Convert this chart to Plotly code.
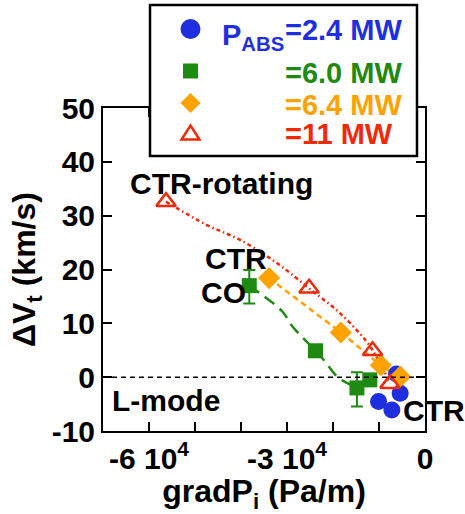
import plotly.graph_objects as go

# ---------------- data ----------------
# P_ABS = 2.4 MW (blue circles)
blue_x = [-1.01e4, -0.72e4, -0.54e4, -0.62e4]
blue_y = [-4.5, -6.1, -3.0, 0.6]

# P_ABS = 6.0 MW (green squares)
green_x = [-3.82e4, -2.38e4, -1.48e4, -1.20e4]
green_y = [17.0, 4.9, -2.0, -0.5]
green_err_plus = [2.9, 0, 2.9, 0]
green_err_minus = [3.3, 0, 3.45, 0]

# P_ABS = 6.4 MW (orange diamonds)
orange_x = [-3.39e4, -1.83e4, -0.96e4, -0.54e4]
orange_y = [18.4, 8.3, 2.2, 0.1]

# P_ABS = 11 MW (red open triangles)
red_x = [-5.63e4, -2.52e4, -1.14e4, -0.76e4]
red_y = [32.6, 16.5, 4.9, -1.2]

# guide curves
red_fit_x = [-5.63e4, -4.75e4, -4.02e4, -3.22e4, -2.52e4, -1.85e4, -1.27e4, -1.0e4, -0.76e4]
red_fit_y = [32.6, 28.3, 25.5, 21.2, 16.5, 11.9, 6.6, 3.0, -1.2]
orange_fit_x = [-3.39e4, -2.6e4, -1.83e4, -1.3e4, -0.96e4, -0.54e4]
orange_fit_y = [18.4, 13.3, 8.3, 4.6, 2.2, 0.1]
green_fit_x = [-3.82e4, -3.59e4, -3.1e4, -2.88e4, -2.38e4, -2.2e4, -1.91e4, -1.69e4, -1.5e4]
green_fit_y = [17.0, 15.6, 12.2, 9.4, 4.9, 3.2, 0.1, -1.1, -1.8]

x_tickvals = [-7e4, -6e4, -5e4, -4e4, -3e4, -2e4, -1e4, 0]
x_ticktext = ["", "-6 10<sup>4</sup>", "", "", "-3 10<sup>4</sup>", "", "", "0"]
y_tickvals = [-10, 0, 10, 20, 30, 40, 50]
y_ticktext = ["-10", "0", "10", "20", "30", "40", "50"]

legend_labels = ["=2.4 MW", "=6.0 MW", "=6.4 MW", "=11 MW"]

# ---------------- style ----------------
BLUE = "#1f2fe0"
GREEN = "#1e8a12"
ORANGE = "#ffa200"
RED = "#f02a08"
FONT = "Liberation Sans, Arial, sans-serif"

W, H = 465, 514
# plot frame in screen pixels
SX0, SX1, SY0, SY1 = 103, 425, 108, 431
L = SX0
R = W - SX1
T = SY0
B = H - SY1
PW, PH = W - L - R, H - T - B


def px_x(px):
    return (px - SX0) / PW


def px_y(py):
    return (SY1 - py) / PH


fig = go.Figure()

fig.add_trace(go.Scatter(x=red_fit_x, y=red_fit_y, mode="lines", line_shape="spline",
                         line=dict(color=RED, width=2.5, dash="4px,3px,1.5px,3px"),
                         showlegend=False, hoverinfo="skip"))
fig.add_trace(go.Scatter(x=orange_fit_x, y=orange_fit_y, mode="lines", line_shape="spline",
                         line=dict(color=ORANGE, width=2.5, dash="6px,4px"),
                         showlegend=False, hoverinfo="skip"))
fig.add_trace(go.Scatter(x=green_fit_x, y=green_fit_y, mode="lines", line_shape="spline",
                         line=dict(color=GREEN, width=2.5, dash="12px,7px"),
                         showlegend=False, hoverinfo="skip"))

fig.add_trace(go.Scatter(x=blue_x, y=blue_y, mode="markers",
                         marker=dict(symbol="circle", size=17, color=BLUE),
                         showlegend=False))
fig.add_trace(go.Scatter(x=green_x, y=green_y, mode="markers",
                         marker=dict(symbol="square", size=15, color=GREEN),
                         error_y=dict(type="data", symmetric=False, array=green_err_plus,
                                      arrayminus=green_err_minus, color=GREEN,
                                      thickness=2, width=6),
                         showlegend=False))
fig.add_trace(go.Scatter(x=orange_x, y=orange_y, mode="markers",
                         marker=dict(symbol="diamond", size=17, color=ORANGE),
                         showlegend=False))
fig.add_trace(go.Scatter(x=red_x, y=red_y, mode="markers",
                         marker=dict(symbol="triangle-up-open", size=17, color=RED,
                                     line=dict(width=2.5, color=RED)),
                         showlegend=False))

# zero line
fig.add_shape(type="line", xref="paper", yref="y", x0=0, x1=1, y0=0, y1=0,
              line=dict(color="black", width=1.5, dash="5px,4px"))

# ---------------- legend box (drawn) ----------------
fig.add_shape(type="rect", xref="paper", yref="paper",
              x0=px_x(150), x1=px_x(417), y0=px_y(156), y1=px_y(5),
              fillcolor="white", line=dict(color="black", width=2.5), layer="above")
mx = 190.5
# circle
fig.add_shape(type="circle", xref="paper", yref="paper",
              x0=px_x(mx - 10), x1=px_x(mx + 10), y0=px_y(29 + 10), y1=px_y(29 - 10),
              fillcolor=BLUE, line=dict(width=0), layer="above")
# square
fig.add_shape(type="rect", xref="paper", yref="paper",
              x0=px_x(mx - 7.5), x1=px_x(mx + 7.5), y0=px_y(71 + 7.5), y1=px_y(71 - 7.5),
              fillcolor=GREEN, line=dict(width=0), layer="above")
# diamond
cy = 103
fig.add_shape(type="path", xref="paper", yref="paper",
              path=(f"M {px_x(mx - 10)} {px_y(cy)} L {px_x(mx)} {px_y(cy - 10)} "
                    f"L {px_x(mx + 10)} {px_y(cy)} L {px_x(mx)} {px_y(cy + 10)} Z"),
              fillcolor=ORANGE, line=dict(width=0), layer="above")
# triangle
cy = 133
fig.add_shape(type="path", xref="paper", yref="paper",
              path=(f"M {px_x(mx - 9)} {px_y(cy + 6.5)} L {px_x(mx + 9)} {px_y(cy + 6.5)} "
                    f"L {px_x(mx)} {px_y(cy - 7.5)} Z"),
              fillcolor="white", line=dict(color=RED, width=2.5), layer="above")

leg_font = dict(family=FONT, size=29, weight="bold")
fig.add_annotation(xref="paper", yref="paper", x=px_x(286), y=px_y(37), xanchor="right",
                   yanchor="middle", text="P<sub>ABS</sub>", showarrow=False,
                   font=dict(leg_font, color=BLUE))
leg_rows = [30, 73, 105, 134]
leg_colors = [BLUE, GREEN, ORANGE, RED]
for lab, yy, col in zip(legend_labels, leg_rows, leg_colors):
    fig.add_annotation(xref="paper", yref="paper", x=px_x(283), y=px_y(yy), xanchor="left",
                       yanchor="middle", text=lab, showarrow=False,
                       font=dict(leg_font, color=col))

# ---------------- text labels ----------------
lab_font = dict(family=FONT, size=30, weight="bold", color="black")
for txt, xx, yy in [("CTR-rotating", -6.43e4, 35.9), ("CTR", -4.8e4, 22.1),
                    ("CO", -4.9e4, 15.8), ("L-mode", -6.82e4, -4.4), ("CTR", -0.5e4, -6.1)]:
    fig.add_annotation(x=xx, y=yy, xanchor="left", yanchor="middle", text=txt,
                       showarrow=False, font=lab_font, borderpad=0)

axis_common = dict(showline=True, linecolor="black", linewidth=2, mirror="ticks",
                   ticks="inside", ticklen=9, tickwidth=2, tickcolor="black",
                   showgrid=False, zeroline=False,
                   tickfont=dict(family=FONT, size=30, weight="bold", color="black"))

fig.update_xaxes(range=[-7e4, 0], tickvals=x_tickvals, ticktext=x_ticktext,
                 title=dict(text="gradP<sub>i</sub> (Pa/m)", standoff=4,
                            font=dict(family=FONT, size=32, weight="bold", color="black")),
                 **axis_common)
fig.update_yaxes(range=[-10, 50], tickvals=y_tickvals, ticktext=y_ticktext,
                 title=dict(text="ΔV<sub>t</sub> (km/s)", standoff=6,
                            font=dict(family=FONT, size=32, weight="bold", color="black")),
                 **axis_common)

fig.update_layout(width=W, height=H, margin=dict(l=L, r=R, t=T, b=B, autoexpand=False),
                  paper_bgcolor="white", plot_bgcolor="white", showlegend=False)

fig.write_html("out.html", config={"displayModeBar": False},
               post_script="document.body.style.margin='0';"
                           "document.body.style.overflow='hidden';")
